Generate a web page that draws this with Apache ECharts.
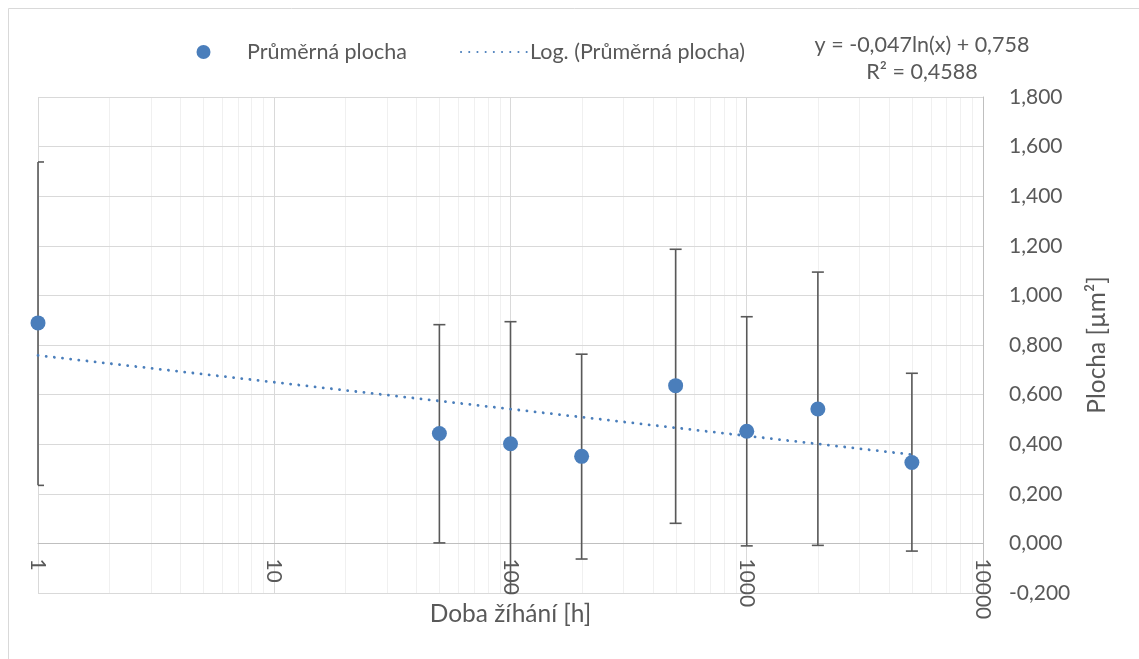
<!DOCTYPE html>
<html>
<head>
<meta charset="utf-8">
<script src="https://cdn.jsdelivr.net/npm/echarts@6/dist/echarts.min.js"></script>
<style>
  html, body { margin: 0; padding: 0; background: #ffffff; }
  #chart { width: 1139px; height: 659px; }
</style>
</head>
<body>
<div id="chart"></div>
<script>
// Annealing time [h] and mean grain area [µm²] with its spread
const hours    = [1, 50, 100, 200, 500, 1000, 2000, 5000];
const meanArea = [0.889, 0.443, 0.402, 0.351, 0.636, 0.452, 0.542, 0.326];
const errPlus  = [0.649, 0.439, 0.492, 0.412, 0.550, 0.462, 0.552, 0.360];
const errMinus = [0.655, 0.441, 0.650, 0.414, 0.555, 0.462, 0.550, 0.357];

// Logarithmic trend y = -0,047 ln(x) + 0,758 (a straight line on a log axis)
const trendHours = [1, 5000];
const trendArea  = [0.758, 0.358];

// Minor log gridlines between decades
const minorHours = [2, 3, 4, 5, 6, 7, 8, 9,
                    20, 30, 40, 50, 60, 70, 80, 90,
                    200, 300, 400, 500, 600, 700, 800, 900,
                    2000, 3000, 4000, 5000, 6000, 7000, 8000, 9000];

const seriesName = 'Průměrná plocha';
const trendName  = 'Log. (Průměrná plocha)';
const equationLines = ['y = -0,047ln(x) + 0,758', 'R² = 0,4588'];
const xAxisTitle = 'Doba žíhání [h]';
const yAxisTitle = 'Plocha [µm²]';
const yMin = -0.2, yMax = 1.8, yStep = 0.2;

const FONT = 'Lato, "Open Sans", sans-serif';
const TEXT = '#595959';
const BLUE = '#4a7ebb';

const W = 1139, H = 659;
const GRID = { left: 38, right: 156, top: 97, bottom: 66 };
// The horizontal axis crosses the vertical one at 0: lift it from the grid bottom to y = 0
const plotHeight = H - GRID.top - GRID.bottom;
const xAxisLift = -plotHeight * (0 - yMin) / (yMax - yMin);

const chart = echarts.init(document.getElementById('chart'), null, { renderer: 'canvas' });

const errorData = hours.map((h, i) => [h, meanArea[i] - errMinus[i], meanArea[i] + errPlus[i]]);

function renderErrorBar(params, api) {
  const cs = params.coordSys;
  const top = cs.y, bottom = cs.y + cs.height, left = cs.x, right = cs.x + cs.width;
  const pHi = api.coord([api.value(0), api.value(2)]);
  const pLo = api.coord([api.value(0), api.value(1)]);
  const cx = pHi[0];
  const half = 6;
  const style = { stroke: '#595959', lineWidth: 1.6 };
  const children = [{
    type: 'line',
    shape: { x1: cx, y1: Math.max(pHi[1], top), x2: cx, y2: Math.min(pLo[1], bottom) },
    style: style
  }];
  const x1 = Math.max(cx - half, left), x2 = Math.min(cx + half, right);
  if (pHi[1] >= top) children.push({ type: 'line', shape: { x1: x1, y1: pHi[1], x2: x2, y2: pHi[1] }, style: style });
  if (pLo[1] <= bottom) children.push({ type: 'line', shape: { x1: x1, y1: pLo[1], x2: x2, y2: pLo[1] }, style: style });
  return { type: 'group', children: children };
}

function renderMinorGrid(params, api) {
  const cs = params.coordSys;
  const x = Math.round(api.coord([api.value(0), 0])[0]) + 0.5;
  return {
    type: 'line',
    shape: { x1: x, y1: cs.y, x2: x, y2: cs.y + cs.height },
    style: { stroke: '#f0f0f0', lineWidth: 1 }
  };
}

const option = {
  animation: false,
  backgroundColor: '#ffffff',
  textStyle: { fontFamily: FONT },
  grid: Object.assign({ containLabel: false, outerBoundsMode: 'none' }, GRID),
  legend: [
    {
      data: [{ name: seriesName, icon: 'circle' }],
      left: 191.5, top: 36,
      itemWidth: 65, itemHeight: 14,
      itemStyle: { opacity: 1 },
      textStyle: { fontFamily: FONT, fontSize: 21.5, color: TEXT, padding: [0, 0, 0, 6] },
      selectedMode: false
    },
    {
      data: [{ name: trendName, itemStyle: { opacity: 0 } }],
      left: 455, top: 36,
      itemWidth: 68, itemHeight: 14,
      textStyle: { fontFamily: FONT, fontSize: 21.5, color: TEXT, padding: [0, 0, 0, -4] },
      selectedMode: false
    }
  ],
  graphic: [
    {
      type: 'rect', silent: true, z: -10,
      shape: { x: 8.5, y: 8.5, width: 1200, height: 700 },
      style: { fill: 'none', stroke: '#d9d9d9', lineWidth: 1 }
    },
    {
      type: 'text', x: 922, y: 45,
      style: { text: equationLines[0], font: '21.5px ' + FONT, fill: TEXT, align: 'center', verticalAlign: 'middle' }
    },
    {
      type: 'text', x: 922, y: 72,
      style: { text: equationLines[1], font: '21.5px ' + FONT, fill: TEXT, align: 'center', verticalAlign: 'middle' }
    }
  ],
  xAxis: {
    type: 'log',
    logBase: 10,
    min: 1,
    max: 10000,
    position: 'bottom',
    offset: xAxisLift,
    name: xAxisTitle,
    nameLocation: 'middle',
    nameGap: 58,
    nameMoveOverlap: false,
    nameTextStyle: { fontFamily: FONT, fontSize: 24.5, color: TEXT },
    axisLine: { show: true, onZero: false, lineStyle: { color: '#bfbfbf', width: 1 } },
    axisTick: { show: false },
    axisLabel: {
      rotate: -90, margin: 15,
      fontFamily: FONT, fontSize: 21, color: TEXT,
      formatter: v => String(Math.round(v))
    },
    splitLine: { show: true, lineStyle: { color: '#d9d9d9', width: 1 } }
  },
  yAxis: {
    type: 'value',
    position: 'right',
    min: yMin,
    max: yMax,
    interval: yStep,
    name: yAxisTitle,
    nameLocation: 'middle',
    nameRotate: 90,
    nameGap: 102,
    nameTextStyle: { fontFamily: FONT, fontSize: 24.5, color: TEXT },
    axisLine: { show: true, onZero: false, lineStyle: { color: '#bfbfbf', width: 1 } },
    axisTick: { show: false },
    axisLabel: {
      margin: 26,
      fontFamily: FONT, fontSize: 21, color: TEXT,
      formatter: v => v.toFixed(3).replace('.', ',')
    },
    splitLine: { show: true, lineStyle: { color: '#d9d9d9', width: 1 } }
  },
  series: [
    {
      type: 'custom',
      name: 'minor-grid',
      silent: true,
      z: -1,
      data: minorHours.map(v => [v, 0]),
      encode: { x: 0, y: 1 },
      renderItem: renderMinorGrid
    },
    {
      type: 'custom',
      name: 'error',
      silent: true,
      z: 2,
      data: errorData,
      encode: { x: 0, y: [1, 2] },
      renderItem: renderErrorBar
    },
    {
      type: 'line',
      name: trendName,
      z: 3,
      data: trendHours.map((h, i) => [h, trendArea[i]]),
      symbol: 'none',
      silent: true,
      color: BLUE,
      lineStyle: { color: BLUE, width: 2.8, type: [0.1, 8.1], cap: 'round' }
    },
    {
      type: 'scatter',
      name: seriesName,
      z: 4,
      data: hours.map((h, i) => [h, meanArea[i]]),
      symbol: 'circle',
      symbolSize: 15,
      itemStyle: { color: BLUE, opacity: 1 }
    }
  ]
};

chart.setOption(option);
</script>
</body>
</html>
